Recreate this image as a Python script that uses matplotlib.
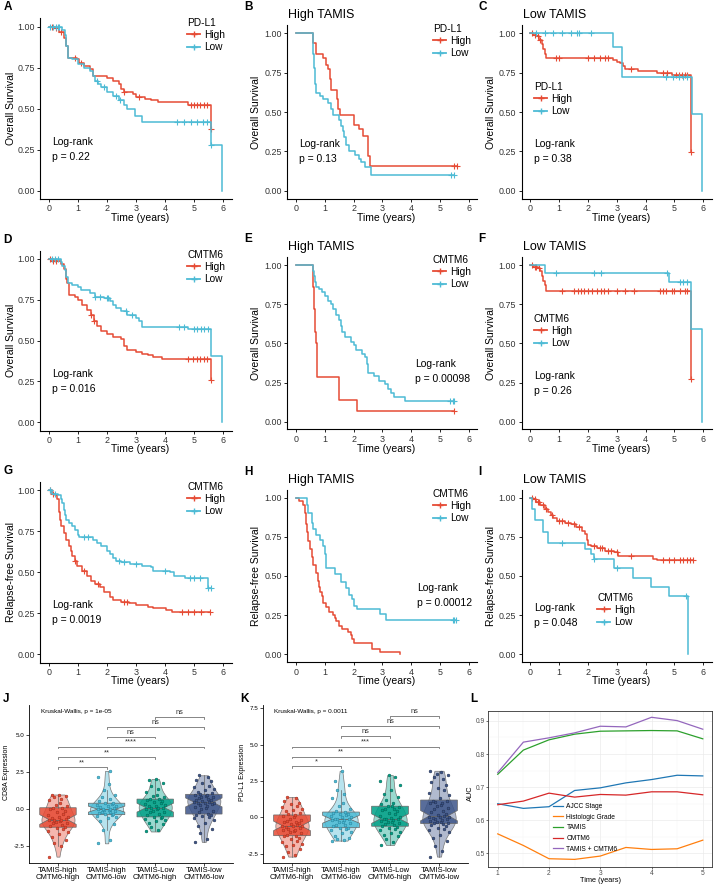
import numpy as np
import matplotlib
matplotlib.use('Agg')
import matplotlib.pyplot as plt
from matplotlib.lines import Line2D
from matplotlib.colors import to_rgba

plt.rcParams['font.family'] = ['Liberation Sans', 'DejaVu Sans']

W, H = 714, 885
RED, CYAN = '#E64B35', '#4DBBD5'
GROUP_COLORS = ['#E64B35', '#4DBBD5', '#00A087', '#3C5488']
GROUP_EDGES = ['#9E2A1A', '#217E97', '#00604F', '#1E2C4A']

# ---------------- KM data: event times, survival after event, censor times
a_high_t = [0.2, 0.35, 0.5, 0.6, 0.66, 0.95, 1.05, 1.2, 1.4, 1.5, 2.0, 2.2, 2.4, 2.5, 2.6, 2.9, 3.0, 3.3, 3.5, 3.75, 4.8, 5.6]
a_high_s = [0.99, 0.97, 0.93, 0.88, 0.81, 0.80, 0.78, 0.76, 0.74, 0.70, 0.69, 0.67, 0.65, 0.62, 0.60, 0.59, 0.57, 0.56, 0.55, 0.54, 0.525, 0.375]
a_high_c = [0.1, 0.25, 0.4, 0.9, 1.1, 2.6, 3.1, 4.9, 5.0, 5.1, 5.2, 5.35, 5.45, 5.6]
a_low_t = [0.45, 0.55, 0.6, 0.66, 0.8, 1.0, 1.2, 1.4, 1.5, 1.6, 1.7, 1.8, 2.0, 2.2, 2.4, 2.6, 2.7, 2.95, 3.22, 5.6, 5.95]
a_low_s = [0.98, 0.95, 0.88, 0.81, 0.80, 0.77, 0.75, 0.73, 0.70, 0.67, 0.65, 0.63, 0.60, 0.58, 0.55, 0.52, 0.50, 0.455, 0.417, 0.28, 0.0]
a_low_c = [0.05, 0.15, 0.25, 0.3, 0.35, 1.65, 1.9, 2.3, 2.45, 4.4, 4.65, 4.9, 5.1, 5.3, 5.45, 5.6]

b_high_t = [0.6, 0.7, 0.95, 1.05, 1.12, 1.18, 1.22, 1.42, 1.46, 1.52, 2.02, 2.2, 2.32, 2.49, 2.58]
b_high_s = [0.94, 0.87, 0.84, 0.80, 0.77, 0.71, 0.64, 0.58, 0.52, 0.48, 0.42, 0.39, 0.35, 0.22, 0.16]
b_high_c = [5.5, 5.6]
b_low_t = [0.6, 0.62, 0.65, 0.7, 0.82, 0.95, 1.1, 1.2, 1.3, 1.5, 1.55, 1.62, 1.68, 1.75, 1.85, 2.05, 2.2, 2.27, 2.4, 2.6]
b_low_s = [0.87, 0.78, 0.68, 0.62, 0.60, 0.58, 0.56, 0.52, 0.48, 0.45, 0.41, 0.38, 0.34, 0.29, 0.25, 0.23, 0.20, 0.18, 0.15, 0.10]
b_low_c = [5.4, 5.5]

c_high_t = [0.1, 0.2, 0.3, 0.4, 0.45, 0.5, 0.54, 2.87, 3.0, 3.1, 3.2, 3.27, 3.75, 4.4, 4.9, 5.58]
c_high_s = [0.99, 0.98, 0.96, 0.93, 0.90, 0.87, 0.84, 0.83, 0.82, 0.81, 0.79, 0.77, 0.76, 0.75, 0.735, 0.245]
c_high_c = [0.05, 0.15, 0.25, 0.35, 0.9, 1.0, 2.0, 2.2, 2.4, 2.6, 2.7, 3.5, 4.6, 4.75, 5.05, 5.15, 5.25, 5.35, 5.45, 5.58]
c_low_t = [2.87, 3.18, 5.6, 5.95]
c_low_s = [0.91, 0.725, 0.485, 0.0]
c_low_c = [0.2, 0.5, 0.8, 1.1, 1.4, 1.62, 1.68, 2.1, 4.7, 4.95, 5.15, 5.3, 5.45]

d_high_t = [0.1, 0.4, 0.5, 0.6, 0.63, 0.68, 0.9, 1.0, 1.15, 1.3, 1.45, 1.55, 1.65, 1.8, 2.0, 2.2, 2.5, 2.6, 2.7, 3.0, 3.2, 3.4, 3.6, 3.9, 5.58]
d_high_s = [0.99, 0.97, 0.94, 0.88, 0.85, 0.78, 0.77, 0.75, 0.72, 0.69, 0.66, 0.62, 0.59, 0.56, 0.54, 0.52, 0.51, 0.47, 0.44, 0.43, 0.42, 0.41, 0.40, 0.385, 0.26]
d_high_c = [0.05, 0.15, 0.25, 1.45, 1.55, 4.8, 4.95, 5.1, 5.2, 5.35, 5.45, 5.58]
d_low_t = [0.4, 0.45, 0.55, 0.6, 0.65, 0.8, 1.0, 1.1, 1.4, 1.6, 1.9, 2.1, 2.2, 2.3, 2.5, 2.7, 3.0, 3.1, 3.22, 4.81, 5.58, 5.95]
d_low_s = [0.98, 0.96, 0.93, 0.89, 0.85, 0.84, 0.83, 0.81, 0.79, 0.77, 0.76, 0.74, 0.72, 0.70, 0.68, 0.66, 0.64, 0.62, 0.586, 0.571, 0.408, 0.0]
d_low_c = [0.1, 0.2, 0.3, 1.6, 1.75, 2.0, 2.05, 2.65, 2.85, 4.5, 4.65, 5.0, 5.1, 5.25, 5.35, 5.5]

e_high_t = [0.58, 0.6, 0.62, 0.66, 0.68, 0.72, 1.49, 2.13]
e_high_s = [0.93, 0.86, 0.717, 0.57, 0.50, 0.283, 0.138, 0.068]
e_high_c = [5.5]
e_low_t = [0.58, 0.6, 0.62, 0.65, 0.7, 0.8, 0.9, 1.0, 1.1, 1.2, 1.3, 1.4, 1.5, 1.55, 1.6, 1.7, 1.9, 2.0, 2.1, 2.3, 2.4, 2.45, 2.5, 2.7, 2.9, 3.1, 3.2, 3.3, 3.4, 3.77]
e_low_s = [0.98, 0.96, 0.93, 0.89, 0.86, 0.85, 0.83, 0.80, 0.77, 0.75, 0.72, 0.68, 0.65, 0.61, 0.57, 0.54, 0.51, 0.49, 0.46, 0.43, 0.41, 0.37, 0.31, 0.29, 0.26, 0.24, 0.21, 0.18, 0.155, 0.135]
e_low_c = [5.35, 5.45, 5.5]

f_high_t = [0.1, 0.25, 0.35, 0.4, 0.45, 0.5, 0.54, 5.58]
f_high_s = [0.99, 0.98, 0.96, 0.93, 0.90, 0.87, 0.834, 0.272]
f_high_c = [0.05, 0.15, 0.2, 0.3, 1.1, 1.5, 1.65, 1.75, 1.85, 2.0, 2.15, 2.3, 2.45, 2.55, 2.7, 3.0, 3.3, 3.6,
            4.5, 4.6, 4.7, 4.9, 5.0, 5.2, 5.35, 5.45, 5.58]
f_low_t = [0.51, 4.81, 5.58, 5.95]
f_low_s = [0.951, 0.894, 0.594, 0.0]
f_low_c = [0.9, 2.2, 2.45, 4.75, 5.2, 5.3, 5.45]

g_high_t = [0.1, 0.2, 0.28, 0.33, 0.36, 0.38, 0.4, 0.5, 0.6, 0.7, 0.75, 0.8, 0.9, 0.98, 1.15, 1.3, 1.45, 1.6, 1.75, 1.9, 2.1, 2.2, 2.5, 2.75, 3.0, 3.4, 3.6, 4.02, 4.23]
g_high_s = [0.98, 0.97, 0.95, 0.92, 0.87, 0.82, 0.78, 0.74, 0.70, 0.66, 0.63, 0.60, 0.57, 0.54, 0.51, 0.48, 0.45, 0.43, 0.41, 0.38, 0.35, 0.33, 0.32, 0.31, 0.30, 0.29, 0.28, 0.27, 0.26]
g_high_c = [0.05, 0.15, 0.9, 1.2, 1.7, 2.6, 2.7, 4.6, 4.8, 5.0, 5.25, 5.55]
g_low_t = [0.1, 0.3, 0.4, 0.45, 0.5, 0.55, 0.6, 0.7, 0.8, 0.9, 1.0, 1.05, 1.5, 1.65, 1.8, 2.0, 2.1, 2.2, 2.3, 2.5, 2.8, 3.2, 3.5, 3.6, 4.17, 4.3, 4.7, 5.49]
g_low_s = [0.98, 0.97, 0.95, 0.92, 0.88, 0.85, 0.82, 0.80, 0.78, 0.76, 0.73, 0.713, 0.70, 0.68, 0.66, 0.63, 0.61, 0.59, 0.57, 0.56, 0.55, 0.54, 0.53, 0.51, 0.50, 0.48, 0.465, 0.406]
g_low_c = [0.05, 0.2, 1.2, 1.35, 2.4, 2.6, 3.0, 4.0, 4.85, 5.0, 5.2, 5.5, 5.6]

h_high_t = [0.1, 0.25, 0.3, 0.33, 0.38, 0.42, 0.5, 0.55, 0.6, 0.68, 0.75, 0.8, 0.85, 0.9, 0.95, 1.05, 1.15, 1.3, 1.35, 1.4, 1.5, 1.6, 1.8, 1.9, 1.96, 2.02, 2.63, 2.92, 3.6]
h_high_s = [0.98, 0.95, 0.90, 0.83, 0.78, 0.72, 0.67, 0.62, 0.57, 0.52, 0.47, 0.43, 0.40, 0.37, 0.33, 0.30, 0.27, 0.25, 0.23, 0.21, 0.18, 0.16, 0.14, 0.12, 0.10, 0.07, 0.034, 0.017, 0.0]
h_high_c = []
h_low_t = [0.37, 0.42, 0.55, 0.6, 0.7, 0.85, 0.95, 1.0, 1.04, 1.36, 1.55, 1.75, 1.85, 1.95, 2.0, 2.11, 2.92, 3.12]
h_low_s = [0.95, 0.90, 0.84, 0.80, 0.76, 0.73, 0.69, 0.64, 0.55, 0.51, 0.46, 0.42, 0.38, 0.35, 0.31, 0.29, 0.26, 0.22]
h_low_c = [5.45, 5.5, 5.55]

i_high_t = [0.1, 0.2, 0.35, 0.5, 0.6, 0.7, 0.8, 0.91, 1.2, 1.4, 1.6, 1.8, 1.9, 1.95, 2.0, 2.1, 2.3, 2.6, 2.9, 3.05, 4.24, 4.4]
i_high_s = [0.99, 0.97, 0.95, 0.93, 0.91, 0.89, 0.87, 0.85, 0.84, 0.83, 0.81, 0.79, 0.77, 0.73, 0.70, 0.69, 0.68, 0.66, 0.65, 0.63, 0.61, 0.60]
i_high_c = [0.05, 0.15, 0.25, 0.3, 0.45, 0.55, 0.75, 1.0, 1.1, 1.3, 1.5, 1.7, 2.2, 2.4, 2.5, 2.7, 2.8, 3.0, 3.5,
            4.6, 4.8, 5.0, 5.2, 5.3, 5.45, 5.55, 5.65]
i_low_t = [0.05, 0.15, 0.45, 0.6, 1.9, 2.1, 2.2, 2.9, 3.55, 4.19, 4.81, 5.46]
i_low_s = [0.93, 0.86, 0.78, 0.71, 0.67, 0.64, 0.61, 0.55, 0.49, 0.43, 0.37, 0.0]
i_low_c = [1.1, 2.2, 3.0, 5.4]

# ---------------- violin data (J: CD8A, K: PD-L1)
group_labels = ['TAMIS-high\nCMTM6-high', 'TAMIS-high\nCMTM6-low', 'TAMIS-Low\nCMTM6-high', 'TAMIS-low\nCMTM6-low']
j_g1 = [-3.2, -2.5, -2.3, -2.1, -1.9, -1.7, -1.55, -1.45, -1.35, -1.25, -1.2, -1.1, -1.05, -0.95, -0.9, -0.85, -0.8, -0.75, -0.72, -0.7,
        -0.68, -0.6, -0.55, -0.5, -0.4, -0.3, -0.2, -0.1, 0.0, 0.1, 0.12, 0.2, 0.3, 0.45, 0.6, 0.7, 0.8, 0.9, 0.95, 1.0]
j_g2 = [-2.3, -2.1, -1.4, -1.0, -0.8, -0.6, -0.5, -0.45, -0.4, -0.35, -0.3, -0.25, -0.2, -0.15, -0.1, -0.05, -0.02, 0.0,
        0.02, 0.05, 0.1, 0.15, 0.2, 0.25, 0.3, 0.35, 0.4, 0.45, 0.55, 0.7, 0.8, 1.0, 1.3, 1.7, 2.2, 2.6]
j_g3 = [-1.5, -1.4, -1.2, -1.0, -0.9, -0.8, -0.7, -0.65, -0.6, -0.55, -0.5, -0.4, -0.3, -0.2, -0.15, -0.1, 0.0, 0.05, 0.08, 0.1,
        0.12, 0.2, 0.25, 0.3, 0.35, 0.4, 0.5, 0.55, 0.6, 0.68, 0.72, 0.8, 0.9, 1.0, 1.2, 1.4, 1.6, 1.8, 2.0, 2.05]
j_g4 = [-2.2, -2.0, -1.6, -1.3, -1.1, -0.9, -0.75, -0.6, -0.5, -0.45, -0.4, -0.38, -0.3, -0.2, -0.1, 0.0, 0.1, 0.15, 0.2, 0.3,
        0.35, 0.4, 0.42, 0.45, 0.48, 0.5, 0.55, 0.6, 0.65, 0.7, 0.75, 0.8, 0.85, 0.9, 0.95, 1.0, 1.05, 1.1, 1.2, 1.3,
        1.4, 1.5, 1.6, 1.8, 1.9, 2.0, 2.2, 2.3]
k_g1 = [-2.7, -2.6, -2.4, -2.2, -2.0, -1.9, -1.8, -1.7, -1.6, -1.5, -1.4, -1.3, -1.25, -1.2, -1.1, -1.0, -0.95, -0.9, -0.85, -0.8,
        -0.7, -0.65, -0.62, -0.6, -0.58, -0.5, -0.45, -0.4, -0.35, -0.3, -0.25, -0.2, -0.1, 0.0, 0.1, 0.15, 0.2, 0.3, 0.4, 0.5,
        0.6, 0.7, 0.8, 0.9, 1.0, 1.1, 1.3, 1.4]
k_g2 = [-1.6, -1.55, -1.5, -1.4, -1.3, -1.1, -1.0, -0.9, -0.8, -0.75, -0.7, -0.6, -0.55, -0.5, -0.4, -0.35, -0.3, -0.2, -0.18, -0.15,
        -0.12, -0.1, 0.0, 0.05, 0.1, 0.15, 0.2, 0.25, 0.3, 0.35, 0.4, 0.6, 0.8, 1.0, 1.3, 1.6, 1.9, 2.2, 2.5, 3.2]
k_g3 = [-1.9, -1.7, -1.5, -1.3, -1.2, -1.1, -1.0, -0.9, -0.8, -0.7, -0.65, -0.6, -0.5, -0.45, -0.4, -0.35, -0.3, -0.25, -0.2, -0.15,
        -0.12, -0.1, -0.08, 0.0, 0.1, 0.2, 0.3, 0.4, 0.5, 0.55, 0.6, 0.7, 0.75, 0.8, 0.9, 1.0, 1.2, 1.4, 1.6, 1.9,
        2.2, 2.5, 2.8, 2.9]
k_g4 = [-2.7, -2.3, -2.0, -1.6, -1.4, -1.2, -1.0, -0.9, -0.8, -0.7, -0.6, -0.5, -0.45, -0.42, -0.4, -0.35, -0.3, -0.25, -0.2, -0.15,
        -0.1, -0.05, 0.0, 0.02, 0.05, 0.08, 0.15, 0.25, 0.35, 0.45, 0.55, 0.65, 0.75, 0.85, 0.95, 1.0, 1.05, 1.1, 1.15, 1.3,
        1.5, 1.7, 1.9, 2.0, 2.2, 2.4, 2.6, 2.8, 2.9, 3.0, 3.1, 3.2]
# brackets: (group a, group b, height, label)
j_brackets = [(1, 2, 2.86, '**'), (1, 3, 3.54, '**'), (1, 4, 4.23, '****'), (2, 3, 4.91, 'ns'), (2, 4, 5.56, 'ns'), (3, 4, 6.24, 'ns')]
k_brackets = [(1, 2, 3.53, '*'), (1, 3, 4.17, '**'), (1, 4, 4.86, '***'), (2, 3, 5.57, 'ns'), (2, 4, 6.28, 'ns'), (3, 4, 6.97, 'ns')]
JITTER = [-0.18, 0.06, -0.08, 0.16, -0.13, 0.02, 0.2, -0.2, 0.11, -0.03, 0.14, -0.16, 0.08, -0.1, 0.18, -0.05, 0.04]

# ---------------- time-dependent AUC (L)
auc_years = [1, 1.5, 2, 2.5, 3, 3.5, 4, 4.5, 5]
auc_ajcc = [0.650, 0.636, 0.641, 0.690, 0.698, 0.713, 0.723, 0.736, 0.734]
auc_grade = [0.559, 0.524, 0.484, 0.482, 0.492, 0.518, 0.512, 0.514, 0.540]
auc_tamis = [0.739, 0.812, 0.843, 0.860, 0.869, 0.870, 0.871, 0.870, 0.846]
auc_cmtm6 = [0.647, 0.658, 0.682, 0.670, 0.678, 0.676, 0.686, 0.686, 0.677]
auc_combo = [0.744, 0.836, 0.849, 0.864, 0.884, 0.882, 0.911, 0.901, 0.875]
auc_names = ['AJCC Stage', 'Histologic Grade', 'TAMIS', 'CMTM6', 'TAMIS + CMTM6']
auc_colors = ['#1f77b4', '#ff7f0e', '#2ca02c', '#d62728', '#9467bd']


def rect(l, t, r, b):
    return [l / W, 1 - b / H, (r - l) / W, (b - t) / H]


def ftext(x, y, s, **kw):
    return fig.text(x / W, 1 - y / H, s, **kw)


def draw_curve(ax, t, s, c, color):
    tt = np.concatenate([[0.0], t])
    ss = np.concatenate([[1.0], s])
    end = max(tt[-1], max(c) if c else 0)
    ax.step(np.append(tt, end), np.append(ss, ss[-1]), where='post', color=color, lw=1.1)
    if c:
        idx = np.searchsorted(tt, c, side='right') - 1
        ax.plot(c, ss[idx], ls='none', marker='+', color=color, ms=4, mew=0.8)


fig = plt.figure(figsize=(W / 100, H / 100), dpi=100)

km_panels = [
    # letter, box, title, legend name, ylabel, high, low, p, legend pos, log-rank pos
    ('A', (40.3, 18.5, 231.7, 198.9), None, 'PD-L1', 'Overall Survival',
     (a_high_t, a_high_s, a_high_c), (a_low_t, a_low_s, a_low_c), 'p = 0.22', (187, 23), (52, 142)),
    ('B', (287.4, 25.4, 477.3, 198.6), 'High TAMIS', 'PD-L1', 'Overall Survival',
     (b_high_t, b_high_s, b_high_c), (b_low_t, b_low_s, b_low_c), 'p = 0.13', (433, 29), (299, 144)),
    ('C', (521.7, 25.4, 711.9, 198.6), 'Low TAMIS', 'PD-L1', 'Overall Survival',
     (c_high_t, c_high_s, c_high_c), (c_low_t, c_low_s, c_low_c), 'p = 0.38', (534, 87), (534, 144)),
    ('D', (40.3, 250.8, 231.7, 430.5), None, 'CMTM6', 'Overall Survival',
     (d_high_t, d_high_s, d_high_c), (d_low_t, d_low_s, d_low_c), 'p = 0.016', (187, 255), (52, 374)),
    ('E', (287.4, 257.2, 477.3, 429.5), 'High TAMIS', 'CMTM6', 'Overall Survival',
     (e_high_t, e_high_s, e_high_c), (e_low_t, e_low_s, e_low_c), 'p = 0.00098', (433, 260), (415, 364)),
    ('F', (521.7, 257.2, 711.9, 429.5), 'Low TAMIS', 'CMTM6', 'Overall Survival',
     (f_high_t, f_high_s, f_high_c), (f_low_t, f_low_s, f_low_c), 'p = 0.26', (534, 319), (534, 376)),
    ('G', (40.3, 482.1, 231.7, 662.5), None, 'CMTM6', 'Relapse-free Survival',
     (g_high_t, g_high_s, g_high_c), (g_low_t, g_low_s, g_low_c), 'p = 0.0019', (187, 487), (52, 605)),
    ('H', (287.4, 489.8, 477.3, 662.1), 'High TAMIS', 'CMTM6', 'Relapse-free Survival',
     (h_high_t, h_high_s, h_high_c), (h_low_t, h_low_s, h_low_c), 'p = 0.00012', (433, 494), (417, 588)),
    ('I', (521.7, 489.8, 711.9, 662.1), 'Low TAMIS', 'CMTM6', 'Relapse-free Survival',
     (i_high_t, i_high_s, i_high_c), (i_low_t, i_low_s, i_low_c), 'p = 0.048', (597, 598), (534, 608)),
]

for letter, bx, title, lname, ylab, hi, lo, ptxt, lpos, rpos in km_panels:
    ax = fig.add_axes(rect(*bx))
    draw_curve(ax, *hi, RED)
    draw_curve(ax, *lo, CYAN)
    ax.set_xlim(-0.3, 6.3)
    ax.set_ylim(-0.05, 1.05)
    ax.set_xticks(range(7))
    ax.set_yticks([0, 0.25, 0.5, 0.75, 1.0], ['0.00', '0.25', '0.50', '0.75', '1.00'])
    for sp in ['top', 'right']:
        ax.spines[sp].set_visible(False)
    for sp in ['left', 'bottom']:
        ax.spines[sp].set_linewidth(0.8)
    ax.tick_params(labelsize=6.4, length=2.5, width=0.6, pad=1.5, labelcolor='#333333')
    l, t, r, b = bx
    ftext(11 if l < 100 else l - 31, (t + b) / 2, ylab, rotation=90,
          ha='center', va='center', fontsize=7.5)
    ftext((l + r) / 2 + 4, b + 19, 'Time (years)', ha='center', va='center', fontsize=7.5)
    ftext(l - 37 if l < 100 else l - 43, t - 11 if title is None else t - 18, letter,
          fontsize=8.5, fontweight='bold', va='center')
    if title:
        ftext(l + 1, t - 10, title, fontsize=9, va='center')
    handles = [Line2D([], [], color=RED, lw=1.3, marker='+', ms=4),
               Line2D([], [], color=CYAN, lw=1.3, marker='+', ms=4)]
    ax.legend(handles, ['High', 'Low'], title=lname, loc='upper left',
              bbox_to_anchor=(lpos[0] / W, 1 - (lpos[1] - 5) / H), bbox_transform=fig.transFigure,
              frameon=False, fontsize=7.3, title_fontsize=7.3, alignment='left', borderpad=0,
              borderaxespad=0, handlelength=1.3, handletextpad=0.4, labelspacing=0.2)
    ftext(rpos[0], rpos[1], 'Log-rank', fontsize=7.5, va='center')
    ftext(rpos[0], rpos[1] + 15, ptxt, fontsize=7.5, va='center')


def violin_panel(bx, groups, ylim, yticks, ylab, kw, brackets, letter, kwx, ylabx):
    ax = fig.add_axes(rect(*bx))
    pos = [1, 2, 3, 4]
    vp = ax.violinplot(groups, positions=pos, widths=0.68, showextrema=False)
    for body, col in zip(vp['bodies'], GROUP_COLORS):
        body.set_facecolor(to_rgba(col, 0.4))
        body.set_edgecolor('#777777')
        body.set_linewidth(0.5)
        body.set_alpha(None)
    bp = ax.boxplot(groups, positions=pos, widths=0.75, notch=True, patch_artist=True,
                    showfliers=False, showcaps=False,
                    medianprops=dict(color='#666666', lw=0.6),
                    whiskerprops=dict(color='#666666', lw=0.5),
                    boxprops=dict(edgecolor='#666666', lw=0.5))
    for patch, col in zip(bp['boxes'], GROUP_COLORS):
        patch.set_facecolor(to_rgba(col, 0.85))
    for p, vals, col, ec in zip(pos, groups, GROUP_COLORS, GROUP_EDGES):
        xs = [p + JITTER[i % len(JITTER)] for i in range(len(vals))]
        ax.scatter(xs, vals, s=4, color=col, edgecolors=ec, linewidths=0.35, zorder=5)
    for a, b, y, lab in brackets:
        ax.plot([a, a, b, b], [y - 0.12, y, y, y - 0.12], color='#555555', lw=0.5)
        ax.text((a + b) / 2, y + 0.06, lab, ha='center', va='bottom', fontsize=5.3, color='#333333')
    ax.set_xlim(0.4, 4.6)
    ax.set_ylim(*ylim)
    ax.set_yticks(yticks, [f'{v:.1f}' for v in yticks])
    ax.set_xticks(pos, group_labels)
    for sp in ['top', 'right']:
        ax.spines[sp].set_visible(False)
    for sp in ['left', 'bottom']:
        ax.spines[sp].set_linewidth(0.6)
    ax.tick_params(axis='y', labelsize=4.5, length=2, width=0.5, pad=1)
    ax.tick_params(axis='x', labelsize=5.5, length=2, width=0.5, pad=1)
    for lab in ax.get_xticklabels():
        lab.set_linespacing(0.95)
    ftext(kwx, 711, kw, fontsize=4.6, va='center')
    ftext(ylabx, (bx[1] + bx[3]) / 2 - 12, ylab, rotation=90, ha='center', va='center', fontsize=5)
    ftext(bx[0] - 26 if bx[0] < 100 else bx[0] - 22, 699, letter, fontsize=8.5, fontweight='bold', va='center')


violin_panel((28.8, 705, 233, 863), [j_g1, j_g2, j_g3, j_g4], (-3.63, 7.05), [-2.5, 0.0, 2.5, 5.0],
             'CD8A Expression', 'Kruskal-Wallis, p = 1e-05', j_brackets, 'J', 41, 7)
violin_panel((262.6, 705, 468.4, 863), [k_g1, k_g2, k_g3, k_g4], (-3.14, 7.72), [-2.5, 0.0, 2.5, 5.0, 7.5],
             'PD-L1 Expression', 'Kruskal-Wallis, p = 0.0011', k_brackets, 'K', 274, 242)

# ---------------- L panel
axl = fig.add_axes(rect(488, 711, 712, 867))
for vals, name, col in zip([auc_ajcc, auc_grade, auc_tamis, auc_cmtm6, auc_combo], auc_names, auc_colors):
    axl.plot(auc_years, vals, color=col, lw=0.9, label=name)
axl.set_xlim(0.81, 5.18)
axl.set_ylim(0.459, 0.930)
axl.set_xticks([1, 2, 3, 4, 5])
axl.set_yticks([0.5, 0.6, 0.7, 0.8, 0.9])
axl.set_xticks([1.5, 2.5, 3.5, 4.5], minor=True)
axl.set_yticks([0.55, 0.65, 0.75, 0.85], minor=True)
axl.grid(True, which='major', color='#EBEBEB', lw=0.5)
axl.grid(True, which='minor', color='#F3F3F3', lw=0.3)
axl.set_axisbelow(True)
for sp in axl.spines.values():
    sp.set_color('#333333')
    sp.set_linewidth(0.6)
axl.tick_params(labelsize=4.8, length=1.5, width=0.4, pad=1, labelcolor='#4D4D4D')
axl.tick_params(which='minor', length=0)
axl.legend(loc='upper left', bbox_to_anchor=(553 / W, 1 - 803 / H), bbox_transform=fig.transFigure,
           frameon=False, fontsize=4.8, borderpad=0, borderaxespad=0, handlelength=1.5,
           handletextpad=0.5, labelspacing=0.55)
ftext(600, 880, 'Time (years)', ha='center', va='center', fontsize=5.3)
ftext(470, 793, 'AUC', rotation=90, ha='center', va='center', fontsize=5.3)
ftext(470, 699, 'L', fontsize=8.5, fontweight='bold', va='center')

fig.savefig('out.png', dpi=100)
